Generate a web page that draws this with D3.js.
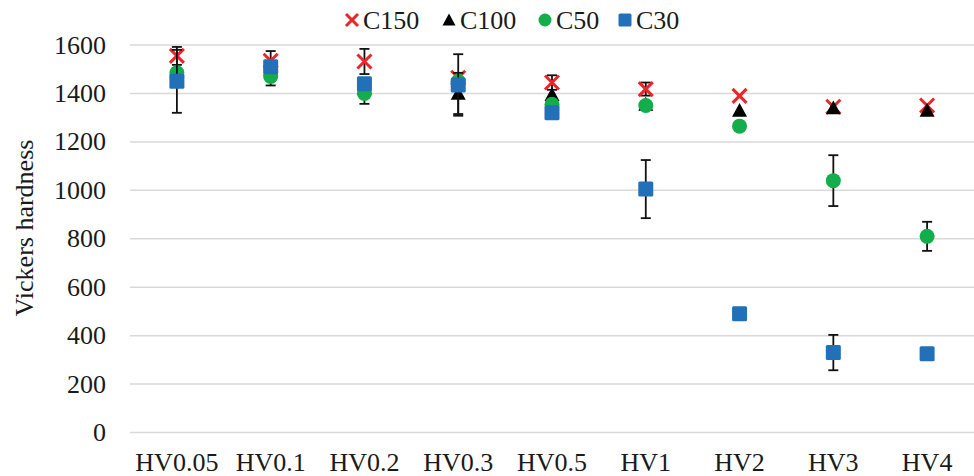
<!DOCTYPE html>
<html>
<head>
<meta charset="utf-8">
<script src="https://cdn.jsdelivr.net/npm/d3@7"></script>
<style>
  body{margin:0;background:#fff;}
</style>
</head>
<body>
<svg id="chart" width="974" height="476"></svg>
<script>
// data
const categories=["HV0.05","HV0.1","HV0.2","HV0.3","HV0.5","HV1","HV2","HV3","HV4"];
const c150=[1555,1535,1532,1465,1445,1418,1390,1345,1350];
const c150Err=[37,40,52,0,30,27,0,0,0];
const c100=[1490,1500,1420,1400,1395,1355,1330,1340,1330];
const c100Err=[0,0,0,85,0,0,0,0,0];
const c50=[1485,1470,1400,1450,1355,1350,1265,1040,810];
const c50Err=[0,37,43,0,0,0,15,105,60];
const c30=[1450,1510,1440,1435,1320,1005,490,330,325];
const c30Err=[130,0,0,127,0,120,25,73,0];
const yTicks=[0,200,400,600,800,1000,1200,1400,1600];

const series=[
  {name:"C150",vals:c150,err:c150Err,shape:"x",color:"#ec2528"},
  {name:"C100",vals:c100,err:c100Err,shape:"tri",color:"#000"},
  {name:"C50",vals:c50,err:c50Err,shape:"circle",color:"#13ad4b"},
  {name:"C30",vals:c30,err:c30Err,shape:"square",color:"#2270b8"}
];

const svg=d3.select("#chart");
const x=d3.scaleBand().domain(categories).range([130,974]).padding(0);
const y=d3.scaleLinear().domain([0,1600]).range([432.5,45]);
const serif="Liberation Serif";
const fs=26;

// gridlines
svg.append("g").selectAll("line").data(yTicks).join("line")
  .attr("x1",130).attr("x2",974)
  .attr("y1",d=>y(d)).attr("y2",d=>y(d))
  .attr("stroke","#d9d9d9").attr("stroke-width",1.5);

// y tick labels
svg.append("g").selectAll("text").data(yTicks).join("text")
  .attr("x",106).attr("y",d=>y(d)+8.5)
  .attr("text-anchor","end").attr("font-size",fs)
  .style("font-family",serif).attr("fill","#1a1a1a")
  .text(d=>d);

// x tick labels
svg.append("g").selectAll("text").data(categories).join("text")
  .attr("x",d=>x(d)+x.bandwidth()/2).attr("y",471)
  .attr("text-anchor","middle").attr("font-size",fs)
  .style("font-family",serif).attr("fill","#1a1a1a")
  .text(d=>d);

// axis title
svg.append("text")
  .attr("transform","translate(33,228) rotate(-90)")
  .attr("text-anchor","middle").attr("font-size",fs)
  .style("font-family",serif).attr("fill","#1a1a1a")
  .text("Vickers hardness");

function drawMarker(g,shape,color,s){
  if(shape==="x"){
    const h=s/2;
    g.append("path").attr("d",`M${-h},${-h}L${h},${h}M${-h},${h}L${h},${-h}`)
      .attr("stroke",color).attr("stroke-width",3).attr("fill","none");
  } else if(shape==="tri"){
    const h=s/2;
    g.append("path").attr("d",`M0,${-h}L${h},${h*0.85}L${-h},${h*0.85}Z`).attr("fill",color);
  } else if(shape==="circle"){
    g.append("circle").attr("r",s/2).attr("fill",color);
  } else {
    g.append("rect").attr("x",-s/2).attr("y",-s/2).attr("width",s).attr("height",s)
      .attr("rx",1.5).attr("fill",color);
  }
}

const sizes={x:14,tri:15,circle:15,square:15};

series.forEach(se=>{
  const g=svg.append("g");
  // error bars
  categories.forEach((c,i)=>{
    const e=se.err[i];
    if(!e) return;
    const cx=x(c)+x.bandwidth()/2;
    const y0=y(se.vals[i]+e), y1=y(se.vals[i]-e);
    const eb=g.append("g").attr("stroke","#111").attr("stroke-width",1.8);
    eb.append("line").attr("x1",cx).attr("x2",cx).attr("y1",y0).attr("y2",y1);
    eb.append("line").attr("x1",cx-5).attr("x2",cx+5).attr("y1",y0).attr("y2",y0);
    eb.append("line").attr("x1",cx-5).attr("x2",cx+5).attr("y1",y1).attr("y2",y1);
  });
  categories.forEach((c,i)=>{
    const m=g.append("g")
      .attr("transform",`translate(${x(c)+x.bandwidth()/2},${y(se.vals[i])})`);
    drawMarker(m,se.shape,se.color,sizes[se.shape]);
  });
});

// legend
const legendPos=[352,449,545,625];
const leg=svg.append("g");
series.forEach((se,i)=>{
  const m=leg.append("g").attr("transform",`translate(${legendPos[i]},20)`);
  drawMarker(m,se.shape,se.color,se.shape==="x"?12:13);
  leg.append("text").attr("x",legendPos[i]+11).attr("y",29)
    .attr("font-size",fs).style("font-family",serif).attr("fill","#1a1a1a")
    .text(se.name);
});
</script>
</body>
</html>
